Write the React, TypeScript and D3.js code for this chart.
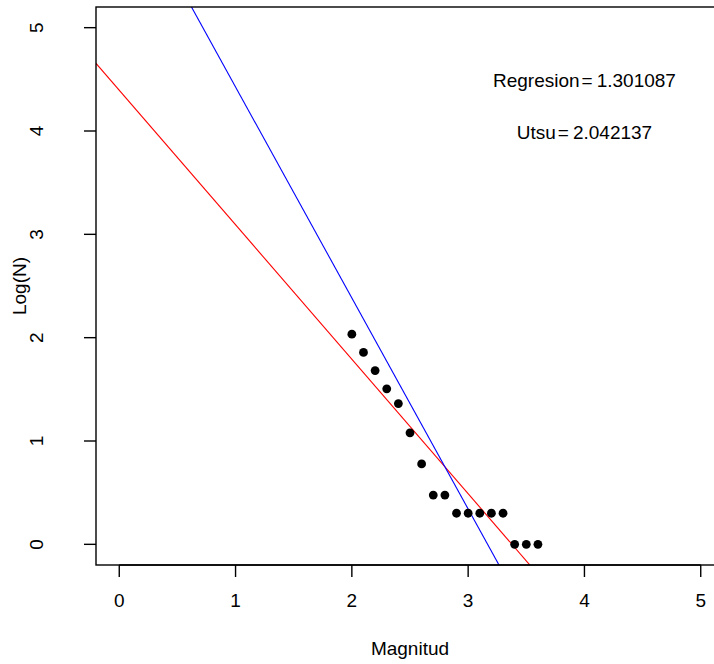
import React from "react";
import * as d3 from "d3";

const magnitudes = [2.0, 2.1, 2.2, 2.3, 2.4, 2.5, 2.6, 2.7, 2.8, 2.9, 3.0, 3.1, 3.2, 3.3, 3.4, 3.5, 3.6];
const logN = [2.0334, 1.8573, 1.6812, 1.5051, 1.3617, 1.0792, 0.7782, 0.4771, 0.4771, 0.301, 0.301, 0.301, 0.301, 0.301, 0, 0, 0];
const xTicks = [0, 1, 2, 3, 4, 5];
const yTicks = [0, 1, 2, 3, 4, 5];
const regB = 1.301087;
const utsuB = 2.042137;
const annotations = [
  { label: "Regresion", value: "1.301087", x: 4, y: 4.5 },
  { label: "Utsu", value: "2.042137", x: 4, y: 4.0 },
];

const W = 714;
const H = 664;
const left = 96;
const right = 724;
const top = 7;
const bottom = 565;
const FS = 19;

export default function App() {
  const x = d3.scaleLinear().domain([-0.2, 5.2]).range([left, right]);
  const y = d3.scaleLinear().domain([-0.2, 5.2]).range([bottom, top]);

  const mx = d3.mean(magnitudes) as number;
  const my = d3.mean(logN) as number;
  const regA = my + regB * mx;
  const utsuA = my + utsuB * mx;

  const lineGen = d3
    .line<[number, number]>()
    .x((d) => x(d[0]))
    .y((d) => y(d[1]));
  const ends = (a: number, b: number): [number, number][] => [
    [-1, a + b],
    [7, a - 7 * b],
  ];

  const font = "Liberation Sans, Arial, Helvetica, sans-serif";

  return (
    <svg
      width={W}
      height={H}
      style={{ position: "absolute", left: 0, top: 0, background: "#fff" }}
      fontFamily={font}
    >
      <defs>
        <clipPath id="plotclip">
          <rect x={left} y={top} width={right - left} height={bottom - top} />
        </clipPath>
      </defs>
      <rect x={0} y={0} width={W} height={H} fill="#fff" />
      <g clipPath="url(#plotclip)">
        <path d={lineGen(ends(regA, regB)) || ""} stroke="#ff0000" strokeWidth={1.1} fill="none" />
        <path d={lineGen(ends(utsuA, utsuB)) || ""} stroke="#0000ff" strokeWidth={1.1} fill="none" />
      </g>
      {magnitudes.map((m, i) => (
        <circle key={i} cx={x(m)} cy={y(logN[i])} r={4.4} fill="#000" />
      ))}
      <rect x={left} y={top} width={right - left} height={bottom - top} fill="none" stroke="#000" strokeWidth={1.4} />
      {/* x axis */}
      <line x1={x(xTicks[0])} x2={x(xTicks[xTicks.length - 1])} y1={bottom} y2={bottom} stroke="#000" strokeWidth={1.4} />
      {xTicks.map((t) => (
        <g key={"x" + t}>
          <line x1={x(t)} x2={x(t)} y1={bottom} y2={bottom + 12} stroke="#000" strokeWidth={1.4} />
          <text x={x(t)} y={607} textAnchor="middle" fontSize={FS}>
            {t}
          </text>
        </g>
      ))}
      {/* y axis */}
      {yTicks.map((t) => (
        <g key={"y" + t}>
          <line x1={left} x2={left - 12} y1={y(t)} y2={y(t)} stroke="#000" strokeWidth={1.4} />
          <text x={43} y={y(t)} textAnchor="middle" fontSize={FS} transform={`rotate(-90, 43, ${y(t)})`}>
            {t}
          </text>
        </g>
      ))}
      <text x={(left + right) / 2} y={655} textAnchor="middle" fontSize={FS}>
        Magnitud
      </text>
      <text
        x={26}
        y={(top + bottom) / 2}
        textAnchor="middle"
        fontSize={FS}
        transform={`rotate(-90, 26, ${(top + bottom) / 2})`}
      >
        Log(N)
      </text>
      {annotations.map((a, i) => (
        <text key={i} x={x(a.x)} y={y(a.y) + 8} textAnchor="middle" fontSize={FS}>
          {a.label}
          <tspan dx={2}>=</tspan>
          <tspan dx={4}>{a.value}</tspan>
        </text>
      ))}
    </svg>
  );
}
